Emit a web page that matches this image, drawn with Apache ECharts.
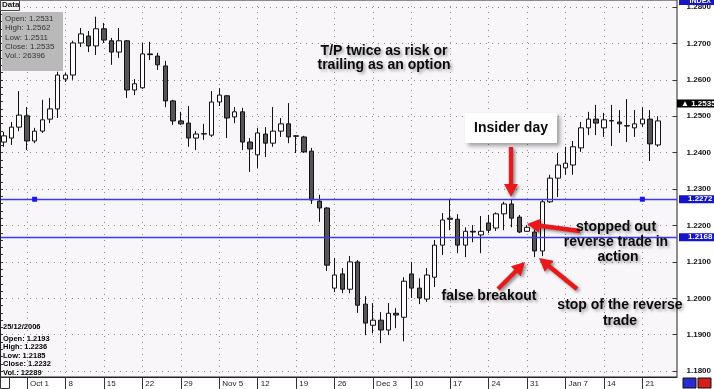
<!DOCTYPE html>
<html><head><meta charset="utf-8">
<script src="https://cdn.jsdelivr.net/npm/echarts@6/dist/echarts.min.js"></script>
<style>html,body{margin:0;padding:0;background:#fff}#c{width:714px;height:389px}</style>
</head><body><div id="c"></div>
<script>
// trading days (2 empty slots at the end)
const dates = ["09-26","09-27","09-28",
"10-01","10-02","10-03","10-04","10-05","10-08","10-09","10-10","10-11","10-12","10-15","10-16","10-17","10-18","10-19","10-22","10-23","10-24","10-25","10-26","10-29","10-30","10-31",
"11-01","11-02","11-05","11-06","11-07","11-08","11-09","11-12","11-13","11-14","11-15","11-16","11-19","11-20","11-21","11-22","11-23","11-26","11-27","11-28","11-29","11-30",
"12-03","12-04","12-05","12-06","12-07","12-10","12-11","12-12","12-13","12-14","12-17","12-18","12-19","12-20","12-21","12-24","12-25","12-26","12-27","12-28","12-31",
"01-01","01-02","01-03","01-04","01-07","01-08","01-09","01-10","01-11","01-14","01-15","01-16","01-17","01-18","01-21","01-22","01-23","01-24","01-25"];
const opens = [1.2429,1.2440,1.2470,
1.2501,1.2432,1.2459,1.2492,1.2520,1.2602,1.2613,1.2701,1.2720,1.2693,1.2740,1.2707,1.2676,1.2707,1.2572,1.2578,1.2671,1.2665,1.2638,1.2542,1.2487,1.2481,1.2440,
1.2452,1.2448,1.2539,1.2556,1.2498,1.2512,1.2429,1.2394,1.2451,1.2426,1.2459,1.2479,1.2446,1.2443,1.2404,1.2267,1.2248,1.2028,1.2067,1.2025,1.2100,1.1984,
1.1926,1.1940,1.1913,1.1959,1.1948,1.2067,1.2028,1.1998,1.2058,1.2146,1.2220,1.2217,1.2146,1.2184,1.2174,1.2207,1.2193,1.2232,1.2259,1.2223,1.2184,
1.2182,1.2130,1.2265,1.2330,1.2358,1.2366,1.2413,1.2468,1.2492,1.2468,1.2488,1.2484,1.2474,1.2468,1.2479,1.2492,1.2421];
const highs = [1.2457,1.2484,1.2569,
1.2525,1.2468,1.2545,1.2550,1.2622,1.2619,1.2707,1.2742,1.2734,1.2773,1.2756,1.2715,1.2742,1.2709,1.2602,1.2701,1.2704,1.2674,1.2652,1.2545,1.2512,1.2528,1.2459,
1.2479,1.2569,1.2577,1.2558,1.2525,1.2523,1.2440,1.2468,1.2470,1.2525,1.2495,1.2536,1.2448,1.2446,1.2413,1.2284,1.2250,1.2111,1.2083,1.2116,1.2105,1.2006,
1.1987,1.1962,1.1987,1.1973,1.2058,1.2100,1.2055,1.2083,1.2160,1.2234,1.2273,1.2231,1.2195,1.2201,1.2226,1.2229,1.2236,1.2265,1.2270,1.2229,1.2201,
1.2190,1.2270,1.2339,1.2399,1.2416,1.2432,1.2484,1.2512,1.2531,1.2509,1.2531,1.2517,1.2547,1.2517,1.2525,1.2517,1.2500];
const lows = [1.2416,1.2421,1.2459,
1.2407,1.2426,1.2454,1.2481,1.2495,1.2594,1.2600,1.2690,1.2676,1.2668,1.2701,1.2641,1.2660,1.2550,1.2558,1.2575,1.2654,1.2627,1.2525,1.2476,1.2476,1.2416,1.2407,
1.2435,1.2443,1.2528,1.2440,1.2481,1.2407,1.2347,1.2358,1.2388,1.2416,1.2443,1.2426,1.2399,1.2399,1.2259,1.2210,1.2075,1.2017,1.2014,1.2014,1.1960,1.1899,
1.1904,1.1877,1.1899,1.1918,1.1882,1.2001,1.1984,1.1990,1.2031,1.2119,1.2187,1.2124,1.2113,1.2154,1.2124,1.2179,1.2185,1.2187,1.2195,1.2179,1.2182,
1.2113,1.2116,1.2262,1.2278,1.2339,1.2339,1.2402,1.2448,1.2448,1.2443,1.2418,1.2454,1.2429,1.2443,1.2470,1.2377,1.2416];
const closes = [1.2446,1.2470,1.2503,
1.2432,1.2459,1.2490,1.2520,1.2613,1.2613,1.2701,1.2726,1.2693,1.2740,1.2709,1.2676,1.2707,1.2572,1.2589,1.2671,1.2669,1.2641,1.2542,1.2487,1.2479,1.2440,1.2451,
1.2451,1.2539,1.2558,1.2495,1.2512,1.2429,1.2410,1.2454,1.2426,1.2459,1.2479,1.2443,1.2445,1.2402,1.2270,1.2248,1.2091,1.2064,1.2025,1.2100,1.1981,1.1932,
1.1940,1.1913,1.1959,1.1954,1.2047,1.2028,1.2001,1.2064,1.2146,1.2215,1.2217,1.2146,1.2184,1.2182,1.2184,1.2187,1.2232,1.2259,1.2220,1.2182,1.2195,
1.2130,1.2265,1.2330,1.2366,1.2371,1.2416,1.2468,1.2492,1.2481,1.2490,1.2487,1.2479,1.2473,1.2479,1.2492,1.2424,1.2487];
const weekLabels = {"10-01":"Oct 1","10-08":"8","10-15":"15","10-22":"22","10-29":"29","11-05":"Nov 5","11-12":"12","11-19":"19","11-26":"26",
"12-03":"Dec 3","12-10":"10","12-17":"17","12-24":"24","12-31":"31","01-07":"Jan 7","01-14":"14","01-21":"21"};
const yTicks = [1.18,1.19,1.20,1.21,1.22,1.23,1.24,1.25,1.26,1.27,1.28];
const yMinorTicks = [1.182,1.184,1.186,1.188,1.192,1.194,1.196,1.198,1.202,1.204,1.206,1.208,1.212,1.214,1.216,1.218,1.222,1.224,1.226,1.228,
  1.232,1.234,1.236,1.238,1.242,1.244,1.246,1.248,1.252,1.254,1.256,1.258,1.262,1.264,1.266,1.268,1.272,1.274,1.276,1.278,1.18,1.19,1.20,1.21,1.22,1.23,1.24,1.25,1.26,1.27,1.28];
const levels = [1.2272, 1.2168];
const levelHandles = ["10-02","01-21"];
const lastPrice = 1.2535;
const yMin = 1.1784, yMax = 1.2819;
const dataBox = ["Open: 1.2531","High: 1.2562","Low: 1.2511","Close: 1.2535","Vol.: 26396"];
const infoDate = "25/12/2006";
const infoLines = ["Open: 1.2193","High: 1.2236","Low: 1.2185","Close: 1.2232","Vol.: 12289"];

const ohlc = dates.map((d,i)=> i<opens.length ? [opens[i],closes[i],lows[i],highs[i]] : '-');
const isMon = (i)=> weekLabels[dates[i]] !== undefined;
const FONT = "'Liberation Sans', Arial, sans-serif";

function arrow(x1,y1,x2,y2){
  const dx=x2-x1, dy=y2-y1, len=Math.hypot(dx,dy), ux=dx/len, uy=dy/len, nx=-uy, ny=ux;
  const w=2.2, hw=7, L=13, bx=x2-ux*L, by=y2-uy*L;
  const pts=[[x1+nx*w,y1+ny*w],[bx+nx*w,by+ny*w],[bx+nx*hw,by+ny*hw],[x2,y2],[bx-nx*hw,by-ny*hw],[bx-nx*w,by-ny*w],[x1-nx*w,y1-ny*w]];
  return {type:'polygon', shape:{points:pts}, style:{fill:'#e8191b', shadowBlur:3, shadowColor:'rgba(0,0,0,0.4)', shadowOffsetX:2, shadowOffsetY:2}, z:100};
}
function note(text,x,y){
  return {type:'text', z:101, style:{text:text, x:x, y:y, align:'center', verticalAlign:'middle', fill:'#0a0a0a',
    font:"bold 14px "+FONT, textShadowColor:'rgba(0,0,0,0.35)', textShadowBlur:3, textShadowOffsetX:2, textShadowOffsetY:2}};
}
const graphics = [
  {type:'line', shape:{x1:0.5,y1:0,x2:0.5,y2:377}, style:{stroke:'#222',lineWidth:1}, z:50},
  {type:'rect', shape:{x:0.5,y:0.5,width:19,height:10}, style:{fill:'#f4f4f4',stroke:'#444'}, z:60},
  {type:'text', style:{text:'Data', x:2, y:1, fill:'#111', font:"bold 8px "+FONT}, z:61},
  {type:'rect', shape:{x:2,y:12,width:61,height:59}, style:{fill:'#b9b9b9'}, z:60},
  ...dataBox.map((t,i)=>({type:'text', style:{text:t, x:5, y:15+i*9.2, fill:'#333', font:"8px "+FONT}, z:61})),
  {type:'text', style:{text:infoDate, x:3, y:323, fill:'#000', font:"bold 7.5px "+FONT}, z:61},
  ...infoLines.map((t,i)=>({type:'text', style:{text:t, x:3, y:335+i*8.4, fill:'#000', font:"bold 7.5px "+FONT}, z:61})),
  {type:'rect', shape:{x:0.5,y:377.5,width:9,height:11}, style:{fill:'#fff',stroke:'#333'}, z:60},
  {type:'rect', shape:{x:679,y:0,width:35,height:5}, style:{fill:'#1616c8'}, z:60},
  {type:'text', style:{text:'INDEX', x:711, y:-2, align:'right', fill:'#fff', font:"bold 7px "+FONT}, z:61},
  {type:'rect', shape:{x:683,y:378,width:13,height:10}, style:{fill:'#2a2ad0', stroke:'#111'}, z:60},
  {type:'rect', shape:{x:698,y:378,width:13,height:10}, style:{fill:'#d02020', stroke:'#111'}, z:60},
  {type:'rect', shape:{x:465,y:113,width:92,height:30}, style:{fill:'#fff', shadowBlur:4, shadowColor:'rgba(0,0,0,0.35)', shadowOffsetX:3, shadowOffsetY:3}, z:99},
  {type:'text', z:101, style:{text:'Insider day', x:511, y:128, align:'center', verticalAlign:'middle', fill:'#0a0a0a', font:"bold 14px "+FONT}},
  note('T/P twice as risk or',384,51), note('trailing as an option',384,65),
  note('stopped out',616,227), note('reverse trade in',616,242), note('action',618,257),
  note('false breakout',489,296),
  note('stop of the reverse',620,305), note('trade',620,321),
  arrow(511,147,511,197), arrow(580,231,527,224), arrow(498,289,525,262), arrow(577,289,539,258)
];

const chart = echarts.init(document.getElementById('c'), null, {renderer:'canvas'});
chart.setOption({
  animation:false,
  backgroundColor:'#ffffff',
  grid:{left:-2, right:37, top:0, bottom:12, show:true, backgroundColor:'#f8f6f9', borderColor:'#222', borderWidth:1},
  xAxis:{type:'category', data:dates, boundaryGap:true,
    axisLine:{show:true, lineStyle:{color:'#222'}},
    axisTick:{show:true, interval:(i)=>isMon(i), alignWithLabel:true, length:12, lineStyle:{color:'#333'}},
    axisLabel:{interval:(i)=>isMon(i), formatter:(v)=>weekLabels[v]||'', align:'left', padding:[0,0,0,3], margin:3, fontSize:8, color:'#222', fontFamily:FONT},
    splitLine:{show:true, interval:(i)=>isMon(i), alignWithLabel:true, lineStyle:{type:[1,5], color:'#8a8a8a'}}
  },
  yAxis:[
    {type:'value', position:'right', min:yMin, max:yMax, scale:true,
     axisLine:{show:false},
     axisTick:{show:true, inside:true, length:4, customValues:yTicks, lineStyle:{color:'#333'}},
     axisLabel:{customValues:yTicks, formatter:(v)=> v.toFixed(4), showMinLabel:true, showMaxLabel:true, hideOverlap:false, align:'right', margin:34, fontSize:8, fontWeight:'bold', color:'#111', fontFamily:FONT},
     splitLine:{show:true, lineStyle:{type:[1,5], color:'#8a8a8a'}}},
    {type:'value', position:'left', min:yMin, max:yMax, scale:true,
     axisLine:{show:false}, axisLabel:{show:false}, splitLine:{show:false},
     axisTick:{show:true, inside:true, length:3, customValues:yMinorTicks, lineStyle:{color:'#333'}}}
  ],
  series:[{
    type:'candlestick', data:ohlc, barWidth:5,
    itemStyle:{color:'#ffffff', color0:'#555555', borderColor:'#111', borderColor0:'#111', borderWidth:1}
  },{
    type:'line', data:[], color:'#3a3af5', symbol:'none', z:3,
    markLine:{silent:true, symbol:['none','none'], animation:false, precision:4,
      lineStyle:{color:'#3a3af5', width:1.3, type:'solid'},
      data:[
        ...levels.map(v=>({yAxis:v,
          label:{show:true, position:'end', distance:2, formatter:v.toFixed(4), backgroundColor:'#1414c8', color:'#fff', fontSize:8, fontWeight:'bold', fontFamily:FONT, padding:[0,4,0,9]}})),
        {yAxis:lastPrice, lineStyle:{color:'rgba(0,0,0,0)'},
          label:{show:true, position:'end', distance:0, formatter:'▲ '+lastPrice.toFixed(4), backgroundColor:'#000', color:'#fff', fontSize:8, fontWeight:'bold', fontFamily:FONT, padding:[0,3,0,4]}}
      ]},
    markPoint:{silent:true, symbol:'rect', symbolSize:5, itemStyle:{color:'#1a1ae6'}, label:{show:false},
      data: levelHandles.map(d=>({coord:[d, levels[0]]}))}
  }],
  graphic: graphics
});
</script></body></html>
